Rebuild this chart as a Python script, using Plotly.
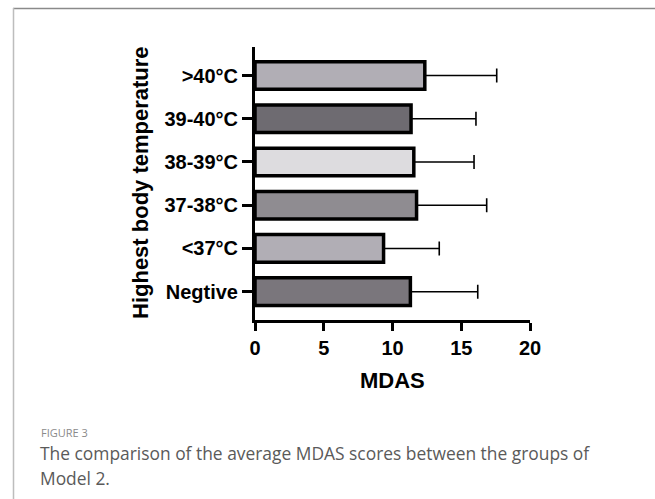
import plotly.graph_objects as go

categories = ["Negtive", "<37°C", "37-38°C", "38-39°C", "39-40°C", ">40°C"]
means = [11.3, 9.35, 11.75, 11.55, 11.35, 12.35]
upper = [16.2, 13.4, 16.85, 15.93, 16.07, 17.58]
colors = ["#7a767c", "#b1aeb5", "#8f8c91", "#dddcdf", "#6e6b71", "#b1aeb5"]

err_plus = [u - m for u, m in zip(upper, means)]

W, H = 655, 499
L, R, T, B = 255, 530, 47, 320

def px(x):
    return (x - L) / (R - L)
def py(y):
    return (B - y) / (B - T)

fig = go.Figure()
fig.add_trace(go.Bar(
    y=list(range(len(categories))),
    x=means,
    orientation="h",
    width=0.64,
    marker=dict(color=colors, line=dict(color="black", width=3.5)),
    error_x=dict(type="data", symmetric=False, array=err_plus,
                 arrayminus=[0] * len(means), color="black", thickness=1.6, width=7),
    showlegend=False,
))

font_main = "Liberation Sans, Arial, sans-serif"

fig.update_layout(
    width=W, height=H,
    margin=dict(l=L, r=W - R, t=T, b=H - B),
    plot_bgcolor="white", paper_bgcolor="white",
    xaxis=dict(range=[0, 20], tickvals=[0, 5, 10, 15, 20], showgrid=False, zeroline=False,
               showline=True, linecolor="black", linewidth=3,
               ticks="outside", ticklen=8, tickwidth=3, tickcolor="black",
               tickfont=dict(family=font_main, size=20, color="black", weight="bold")),
    yaxis=dict(range=[-0.655, 5.66], tickvals=list(range(len(categories))),
               ticktext=categories, showgrid=False, zeroline=False,
               showline=True, linecolor="black", linewidth=3,
               ticks="outside", ticklen=10, tickwidth=3, tickcolor="black",
               tickfont=dict(family=font_main, size=20, color="black", weight="bold")),
    shapes=[
        dict(type="line", xref="paper", yref="paper", x0=px(13), x1=px(660), y0=py(8.5), y1=py(8.5),
             line=dict(color="#8a8a8a", width=1.5)),
        dict(type="line", xref="paper", yref="paper", x0=px(13.5), x1=px(13.5), y0=py(8), y1=py(505),
             line=dict(color="#bdbdbd", width=1.5)),
    ],
    annotations=[
        dict(text="MDAS", xref="paper", yref="paper", x=px(392.5), y=py(380), showarrow=False,
             xanchor="center", yanchor="middle",
             font=dict(family=font_main, size=22, color="black", weight="bold")),
        dict(text="Highest body temperature", xref="paper", yref="paper", x=px(140), y=py(183),
             textangle=-90, showarrow=False, xanchor="center", yanchor="middle",
             font=dict(family=font_main, size=22, color="black", weight="bold")),
        dict(text="FIGURE 3", xref="paper", yref="paper", x=px(39), y=py(433), showarrow=False,
             xanchor="left", yanchor="middle",
             font=dict(family="Open Sans, sans-serif", size=11, color="#8a8a8a")),
        dict(text="The comparison of the average MDAS scores between the groups of",
             xref="paper", yref="paper", x=px(38), y=py(453), showarrow=False,
             xanchor="left", yanchor="middle", align="left",
             font=dict(family="Open Sans, sans-serif", size=17.4, color="#5a5a5a")),
        dict(text="Model 2.",
             xref="paper", yref="paper", x=px(38), y=py(478), showarrow=False,
             xanchor="left", yanchor="middle", align="left",
             font=dict(family="Open Sans, sans-serif", size=17.4, color="#5a5a5a")),
    ],
)

fig.write_html("out.html", config={"displayModeBar": False},
               post_script="document.body.style.margin='0';document.body.style.overflow='hidden';")
